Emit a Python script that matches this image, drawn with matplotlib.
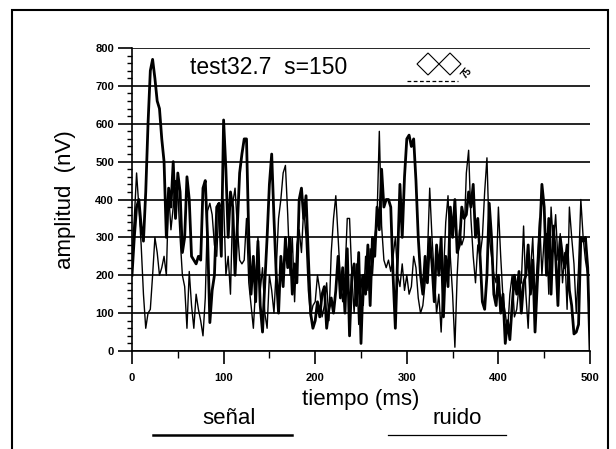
import numpy as np
import matplotlib
matplotlib.use("Agg")
import matplotlib.pyplot as plt
from matplotlib.ticker import MultipleLocator
from matplotlib.patches import Polygon, Rectangle
from matplotlib.lines import Line2D

plt.rcParams['font.family'] = ['Liberation Sans', 'DejaVu Sans']

# time axis (ms), one sample every 2.5 ms
tiempo = np.arange(0, 500.1, 2.5)

# "señal" (thick trace)
senal = [
    200, 300, 380, 400, 330, 290, 420, 600, 740, 770,
    720, 660, 640, 560, 500, 300, 430, 380, 500, 350,
    470, 420, 260, 300, 460, 400, 250, 240, 230, 250,
    240, 430, 450, 300, 75, 160, 200, 380, 390, 250,
    610, 480, 300, 420, 380, 200, 330, 470, 520, 560,
    560, 300, 150, 250, 130, 290, 120, 50, 180, 300,
    440, 520, 350, 200, 100, 250, 170, 300, 220, 300,
    150, 230, 180, 400, 430, 350, 410, 250, 100, 60,
    80, 130, 90, 150, 170, 60, 110, 140, 100, 160,
    250, 140, 220, 100, 270, 40, 200, 230, 120, 260,
    20, 200, 150, 280, 120, 300, 250, 380, 320, 480,
    380, 400, 400, 380, 200, 60, 250, 440, 300, 460,
    560, 570, 540, 560, 450, 300, 200, 150, 250, 180,
    300, 230, 130, 280, 200, 300, 90, 250, 170, 380,
    300, 400, 260, 280, 380, 350, 360, 420, 380, 440,
    300, 350, 250, 130, 110, 200, 390, 300, 150, 120,
    200, 100, 150, 20, 80, 30, 120, 200, 150, 210,
    100, 180, 200, 280, 150, 240, 50, 180, 300, 440,
    380, 200, 350, 150, 330, 250, 120, 300, 250, 220,
    280, 160, 120, 45, 50, 70, 300, 290, 300, 220,
    0,
]

# "ruido" (thin trace)
ruido = [
    250, 350, 470, 380, 280, 150, 60, 100, 110, 200,
    300, 260, 200, 220, 250, 200, 420, 320, 380, 450,
    420, 300, 200, 170, 60, 210, 120, 60, 150, 110,
    80, 40, 140, 370, 390, 360, 280, 250, 390, 380,
    400, 200, 250, 150, 390, 430, 330, 240, 230, 240,
    350, 180, 120, 60, 170, 300, 160, 220, 100, 60,
    200, 160, 100, 220, 350, 400, 470, 490, 360, 200,
    300, 130, 280, 320, 260, 380, 300, 160, 90, 120,
    130, 200, 160, 90, 120, 180, 80, 260, 350, 410,
    300, 190, 130, 200, 350, 350, 200, 100, 230, 70,
    200, 120, 250, 160, 270, 200, 300, 350, 580, 330,
    240, 220, 240, 210, 250, 300, 200, 170, 230, 160,
    200, 150, 170, 250, 220, 140, 100, 120, 180, 250,
    430, 300, 200, 100, 150, 50, 200, 340, 410, 250,
    150, 10, 200, 320, 280, 300, 470, 530, 350, 250,
    180, 280, 250, 300, 420, 510, 300, 250, 200, 180,
    380, 250, 140, 100, 50, 150, 200, 90, 110, 170,
    180, 330, 150, 60, 210, 300, 130, 240, 350, 200,
    300, 310, 150, 380, 280, 360, 240, 310, 180, 260,
    110, 380, 300, 230, 100, 220, 400, 300, 240, 200,
    30,
]

W, H = 616, 449


def fx(px):
    return px / W


def fy(py):
    return 1 - py / H


fig = plt.figure(figsize=(W / 100, H / 100), dpi=100)
ax = fig.add_axes([fx(132), fy(351), fx(590) - fx(132), fy(48) - fy(351)])

ax.plot(tiempo, ruido, color='black', linewidth=1.0)
ax.plot(tiempo, senal, color='black', linewidth=2.0)

ax.set_xlim(0, 500)
ax.set_ylim(0, 800)
ax.xaxis.set_major_locator(MultipleLocator(100))
ax.xaxis.set_minor_locator(MultipleLocator(50))
ax.yaxis.set_major_locator(MultipleLocator(100))
ax.yaxis.set_minor_locator(MultipleLocator(20))
ax.tick_params(axis='y', which='major', direction='out', length=10, width=1.2, pad=3, labelsize=8)
ax.tick_params(axis='y', which='minor', direction='out', length=3.5, width=1)
ax.tick_params(axis='x', which='major', direction='out', length=9, width=1.2, pad=7, labelsize=8)
ax.tick_params(axis='x', which='minor', direction='out', length=5, width=1)
plt.setp(ax.get_xticklabels() + ax.get_yticklabels(), fontweight='bold')

ax.yaxis.grid(True, color='black', linewidth=1.2)
ax.set_axisbelow(True)
for s in ['top', 'right']:
    ax.spines[s].set_visible(False)
for s in ['left', 'bottom']:
    ax.spines[s].set_linewidth(1.2)

ax.set_xlabel('tiempo (ms)', fontsize=16, labelpad=4)
ax.set_ylabel('amplitud  (nV)', fontsize=16, labelpad=14)

fig.text(fx(269), fy(67), 'test32.7  s=150', fontsize=16.5, ha='center', va='center')

# diamond symbol with dashed line and "75"
for cx in (428, 450):
    pts = [(fx(cx - 11), fy(64)), (fx(cx), fy(53)), (fx(cx + 11), fy(64)), (fx(cx), fy(75))]
    fig.add_artist(Polygon(pts, closed=True, fill=False, edgecolor='black',
                           linewidth=0.8, transform=fig.transFigure))
fig.add_artist(Line2D([fx(407), fx(458)], [fy(81), fy(81)], color='black',
                      linewidth=0.9, linestyle=(0, (3, 2)), transform=fig.transFigure))
fig.text(fx(467), fy(73), '75', fontsize=7, fontweight='bold', rotation=50,
         ha='center', va='center')

# legend labels under the axis
fig.text(fx(229), fy(419), 'señal', fontsize=16, ha='center', va='center')
fig.text(fx(457), fy(419), 'ruido', fontsize=16, ha='center', va='center')
fig.add_artist(Line2D([fx(153), fx(292)], [fy(435), fy(435)], color='black',
                      linewidth=1.8, transform=fig.transFigure))
fig.add_artist(Line2D([fx(388), fx(506)], [fy(435), fy(435)], color='black',
                      linewidth=0.9, transform=fig.transFigure))

# outer frame
fig.add_artist(Rectangle((fx(12), fy(460)), fx(608) - fx(12), fy(10) - fy(460),
                         fill=False, edgecolor='black', linewidth=1.5,
                         transform=fig.transFigure, clip_on=False))

fig.savefig('out.png', dpi=100)
